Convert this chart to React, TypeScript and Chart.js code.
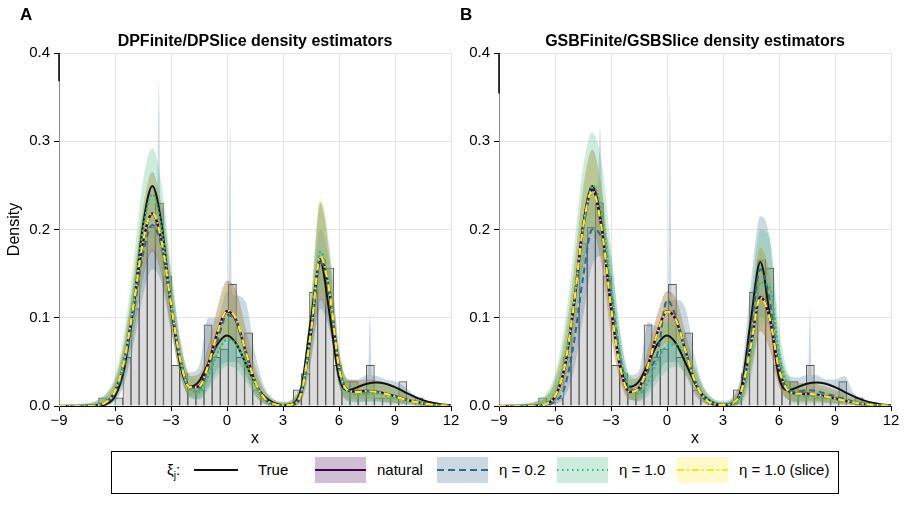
import React, { useEffect, useRef } from 'react';
import { Chart, registerables } from 'chart.js';

Chart.register(...registerables);

const FONT = "'Liberation Sans', Arial, Helvetica, sans-serif";
Chart.defaults.font.family = FONT;
Chart.defaults.color = '#000';

// ---------------- data ----------------
const gridX = [
  -9, -8.5, -8, -7.5, -7, -6.5, -6, -5.5, -5, -4.5, -4,
  -3.5, -3, -2.5, -2, -1.5, -1, -0.5, 0, 0.5, 1, 1.5,
  2, 2.5, 3, 3.5, 4, 4.5, 5, 5.5, 6, 6.5, 7,
  7.5, 8, 8.5, 9, 9.5, 10, 10.5, 11, 11.5, 12,
];

const histCenters = [
  -6.663, -6.228, -5.793, -5.359, -4.924, -4.49, -4.055, -3.621, -3.186, -2.752,
  -2.317, -1.882, -1.448, -1.013, -0.579, -0.144, 0.29, 0.725, 1.159, 1.594,
  2.029, 2.463, 2.898, 3.332, 3.767, 4.201, 4.636, 5.071, 5.505, 5.94,
  6.374, 6.809, 7.243, 7.678, 8.112, 8.547, 8.981, 9.416, 9.851, 10.285,
];
const histDensity = [
  0.0092, 0, 0.0092, 0.0552, 0.1104, 0.184, 0.2024, 0.23, 0.1472, 0.046,
  0.0368, 0.0184, 0.0184, 0.092, 0.0552, 0.0644, 0.138, 0.0552, 0.0828, 0.0184,
  0.0092, 0, 0, 0, 0.0184, 0.0368, 0.1288, 0.1656, 0.1564, 0.046,
  0.0276, 0.0276, 0.0184, 0.046, 0.0092, 0.0092, 0.0092, 0.0276, 0, 0.0092,
];

const trueDensity = [
  0, 0, 0, 0, 0.0002, 0.0019, 0.0109, 0.0429, 0.114, 0.2049, 0.2493,
  0.2052, 0.1149, 0.0464, 0.0217, 0.0278, 0.0486, 0.0704, 0.0798, 0.0704, 0.0484, 0.0259,
  0.0108, 0.0035, 0.001, 0.0022, 0.0224, 0.0986, 0.1632, 0.1034, 0.0325, 0.0179, 0.0214,
  0.0252, 0.0266, 0.0252, 0.0213, 0.0161, 0.0109, 0.0066, 0.0036, 0.0018, 0.0007,
];

// ----- panel A (DPFinite / DPSlice) -----
const naturalA = [
  0, 0, 0, 0.0001, 0.0007, 0.0038, 0.0165, 0.051, 0.1144, 0.1855, 0.218,
  0.1855, 0.1144, 0.052, 0.0216, 0.0222, 0.0475, 0.0842, 0.1073, 0.0967, 0.0617, 0.0278,
  0.0089, 0.0021, 0.0006, 0.0017, 0.0163, 0.0829, 0.1667, 0.1276, 0.0437, 0.0173, 0.0163,
  0.017, 0.0162, 0.014, 0.011, 0.0078, 0.005, 0.0029, 0.0016, 0.0007, 0.0003,
];
const naturalLoA = [
  0, 0, 0, 0, 0, 0.001, 0.008, 0.034, 0.085, 0.145, 0.175,
  0.148, 0.088, 0.036, 0.012, 0.012, 0.03, 0.058, 0.076, 0.068, 0.04, 0.015,
  0.003, 0.0003, 0, 0.0003, 0.008, 0.055, 0.12, 0.09, 0.026, 0.008, 0.008,
  0.008, 0.008, 0.006, 0.004, 0.003, 0.0015, 0.0006, 0.0002, 0, 0,
];
const naturalHiA = [
  0.0005, 0.0008, 0.0012, 0.002, 0.004, 0.01, 0.028, 0.072, 0.145, 0.225, 0.265,
  0.225, 0.145, 0.07, 0.034, 0.036, 0.068, 0.112, 0.142, 0.13, 0.088, 0.045,
  0.018, 0.007, 0.004, 0.007, 0.028, 0.115, 0.23, 0.17, 0.065, 0.03, 0.029,
  0.03, 0.029, 0.026, 0.021, 0.016, 0.011, 0.007, 0.005, 0.003, 0.002,
];
const eta02A = [
  0, 0, 0, 0.0002, 0.001, 0.004, 0.015, 0.046, 0.105, 0.172, 0.205,
  0.18, 0.115, 0.053, 0.022, 0.02, 0.042, 0.075, 0.103, 0.095, 0.06, 0.028,
  0.009, 0.0025, 0.001, 0.002, 0.017, 0.08, 0.163, 0.127, 0.045, 0.018, 0.016,
  0.017, 0.016, 0.014, 0.011, 0.008, 0.005, 0.003, 0.0015, 0.0007, 0.0003,
];
const eta02LoA = [
  0, 0, 0, 0, 0, 0.0005, 0.005, 0.025, 0.07, 0.125, 0.155,
  0.14, 0.085, 0.035, 0.01, 0.008, 0.022, 0.042, 0.05, 0.05, 0.035, 0.012,
  0.002, 0, 0, 0, 0.006, 0.05, 0.11, 0.085, 0.022, 0.006, 0.005,
  0.005, 0.005, 0.004, 0.003, 0.002, 0.001, 0, 0, 0, 0,
];
const eta02HiA = [
  0.001, 0.0015, 0.002, 0.003, 0.006, 0.013, 0.03, 0.072, 0.14, 0.215, 0.25,
  0.228, 0.15, 0.075, 0.038, 0.045, 0.1, 0.1, 0.13, 0.125, 0.118, 0.06,
  0.022, 0.008, 0.005, 0.008, 0.03, 0.11, 0.2, 0.16, 0.06, 0.03, 0.03,
  0.035, 0.034, 0.03, 0.028, 0.022, 0.013, 0.007, 0.004, 0.002, 0.001,
];
const eta02SpikesA = [
  [[-3.75, 0.236], [-3.65, 0.366], [-3.56, 0.232]],
  [[0.08, 0.13], [0.17, 0.32], [0.27, 0.128]],
  [[7.56, 0.035], [7.66, 0.105], [7.76, 0.035]],
];
const eta10A = [
  0, 0, 0, 0.0001, 0.0006, 0.004, 0.017, 0.053, 0.121, 0.2, 0.24,
  0.2, 0.121, 0.052, 0.019, 0.016, 0.034, 0.06, 0.075, 0.07, 0.048, 0.024,
  0.009, 0.0025, 0.0008, 0.002, 0.018, 0.088, 0.175, 0.132, 0.042, 0.015, 0.013,
  0.014, 0.014, 0.012, 0.01, 0.007, 0.0045, 0.0027, 0.0015, 0.0007, 0.0003,
];
const eta10LoA = [
  0, 0, 0, 0, 0, 0.001, 0.007, 0.03, 0.08, 0.15, 0.19,
  0.155, 0.09, 0.035, 0.009, 0.007, 0.018, 0.035, 0.045, 0.042, 0.028, 0.012,
  0.003, 0, 0, 0, 0.008, 0.06, 0.13, 0.095, 0.024, 0.005, 0.004,
  0.005, 0.005, 0.004, 0.003, 0.002, 0.001, 0, 0, 0, 0,
];
const eta10HiA = [
  0.0005, 0.001, 0.0015, 0.003, 0.006, 0.014, 0.034, 0.085, 0.165, 0.255, 0.292,
  0.25, 0.16, 0.075, 0.035, 0.03, 0.055, 0.085, 0.1, 0.095, 0.07, 0.04,
  0.017, 0.006, 0.003, 0.006, 0.03, 0.12, 0.232, 0.18, 0.065, 0.028, 0.025,
  0.026, 0.026, 0.023, 0.019, 0.014, 0.009, 0.006, 0.003, 0.0015, 0.0007,
];
const sliceA = [
  0, 0, 0, 0.0001, 0.0008, 0.004, 0.017, 0.052, 0.115, 0.186, 0.219,
  0.186, 0.115, 0.052, 0.0215, 0.022, 0.047, 0.084, 0.108, 0.098, 0.062, 0.028,
  0.009, 0.0022, 0.0006, 0.0017, 0.0165, 0.084, 0.169, 0.128, 0.0435, 0.0172, 0.016,
  0.0168, 0.016, 0.0138, 0.0108, 0.0077, 0.005, 0.0029, 0.0016, 0.0007, 0.0003,
];
const sliceLoA = [
  0, 0, 0, 0, 0, 0.001, 0.008, 0.035, 0.087, 0.147, 0.178,
  0.15, 0.09, 0.037, 0.012, 0.012, 0.03, 0.057, 0.075, 0.067, 0.04, 0.015,
  0.003, 0.0003, 0, 0.0003, 0.008, 0.056, 0.122, 0.092, 0.027, 0.008, 0.008,
  0.008, 0.008, 0.006, 0.004, 0.003, 0.0015, 0.0006, 0.0002, 0, 0,
];
const sliceHiA = [
  0.0005, 0.0008, 0.0012, 0.002, 0.004, 0.011, 0.03, 0.074, 0.148, 0.228, 0.262,
  0.224, 0.146, 0.071, 0.034, 0.035, 0.066, 0.11, 0.14, 0.128, 0.087, 0.044,
  0.018, 0.007, 0.004, 0.007, 0.029, 0.118, 0.236, 0.174, 0.066, 0.03, 0.028,
  0.029, 0.028, 0.025, 0.021, 0.016, 0.011, 0.007, 0.005, 0.003, 0.002,
];

// ----- panel B (GSBFinite / GSBSlice) -----
const naturalB = [
  0, 0, 0, 0, 0.0002, 0.0019, 0.0107, 0.0422, 0.1122, 0.2015, 0.245,
  0.2015, 0.1122, 0.0432, 0.0158, 0.0203, 0.047, 0.0842, 0.1073, 0.0967, 0.0617, 0.0278,
  0.0089, 0.002, 0.0009, 0.0029, 0.0183, 0.0698, 0.1236, 0.1001, 0.0419, 0.0172, 0.0141,
  0.0139, 0.0129, 0.0109, 0.0085, 0.0061, 0.004, 0.0024, 0.0013, 0.0007, 0.0003,
];
const naturalLoB = [
  0, 0, 0, 0, 0, 0.0004, 0.005, 0.025, 0.08, 0.16, 0.2,
  0.16, 0.08, 0.028, 0.007, 0.009, 0.03, 0.058, 0.072, 0.066, 0.04, 0.016,
  0.004, 0.0005, 0, 0.0005, 0.006, 0.04, 0.085, 0.065, 0.022, 0.007, 0.005,
  0.005, 0.005, 0.004, 0.003, 0.002, 0.001, 0, 0, 0, 0,
];
const naturalHiB = [
  0.0005, 0.0008, 0.0012, 0.002, 0.004, 0.01, 0.03, 0.075, 0.15, 0.245, 0.29,
  0.245, 0.15, 0.065, 0.03, 0.034, 0.065, 0.105, 0.13, 0.12, 0.082, 0.042,
  0.017, 0.006, 0.004, 0.008, 0.032, 0.11, 0.18, 0.15, 0.065, 0.03, 0.026,
  0.026, 0.025, 0.022, 0.018, 0.014, 0.009, 0.006, 0.004, 0.002, 0.001,
];
const eta02B = [
  0, 0, 0, 0, 0.0002, 0.001, 0.005, 0.02, 0.07, 0.145, 0.2,
  0.19, 0.13, 0.055, 0.02, 0.018, 0.04, 0.06, 0.12, 0.1, 0.062, 0.028,
  0.009, 0.0025, 0.001, 0.003, 0.02, 0.085, 0.155, 0.12, 0.045, 0.018, 0.016,
  0.018, 0.017, 0.014, 0.011, 0.008, 0.005, 0.003, 0.0015, 0.0007, 0.0003,
];
const eta02LoB = [
  0, 0, 0, 0, 0, 0, 0.002, 0.01, 0.04, 0.1, 0.16,
  0.17, 0.1, 0.035, 0.008, 0.006, 0.018, 0.035, 0.05, 0.05, 0.035, 0.012,
  0.003, 0, 0, 0, 0.005, 0.045, 0.1, 0.085, 0.025, 0.007, 0.005,
  0.006, 0.006, 0.005, 0.004, 0.003, 0.0015, 0, 0, 0, 0,
];
const eta02HiB = [
  0.001, 0.0015, 0.002, 0.003, 0.005, 0.01, 0.025, 0.06, 0.12, 0.2, 0.25,
  0.25, 0.17, 0.08, 0.035, 0.04, 0.095, 0.09, 0.12, 0.12, 0.11, 0.055,
  0.02, 0.008, 0.006, 0.01, 0.04, 0.14, 0.215, 0.19, 0.075, 0.035, 0.032,
  0.035, 0.035, 0.03, 0.03, 0.034, 0.015, 0.008, 0.004, 0.002, 0.001,
];
const eta02SpikesB = [
  [[-3.7, 0.25], [-3.59, 0.316], [-3.48, 0.248]],
  [[0.07, 0.12], [0.16, 0.352], [0.26, 0.12]],
  [[7.56, 0.035], [7.66, 0.111], [7.76, 0.035]],
];
const eta10B = [
  0, 0, 0, 0.0001, 0.0005, 0.003, 0.015, 0.05, 0.118, 0.2, 0.25,
  0.22, 0.135, 0.058, 0.02, 0.014, 0.028, 0.052, 0.068, 0.07, 0.055, 0.03,
  0.012, 0.004, 0.0015, 0.002, 0.012, 0.06, 0.14, 0.135, 0.06, 0.02, 0.012,
  0.011, 0.011, 0.01, 0.008, 0.006, 0.004, 0.0025, 0.0014, 0.0007, 0.0003,
];
const eta10LoB = [
  0, 0, 0, 0, 0, 0.0005, 0.005, 0.025, 0.075, 0.15, 0.2,
  0.175, 0.1, 0.036, 0.009, 0.005, 0.012, 0.028, 0.04, 0.045, 0.035, 0.017,
  0.005, 0.001, 0, 0, 0.003, 0.03, 0.09, 0.095, 0.035, 0.008, 0.003,
  0.003, 0.003, 0.003, 0.002, 0.0015, 0.001, 0, 0, 0, 0,
];
const eta10HiB = [
  0.0005, 0.001, 0.0015, 0.003, 0.006, 0.014, 0.036, 0.09, 0.175, 0.27, 0.31,
  0.275, 0.18, 0.085, 0.035, 0.03, 0.05, 0.08, 0.095, 0.095, 0.078, 0.045,
  0.02, 0.008, 0.004, 0.007, 0.03, 0.12, 0.2, 0.19, 0.09, 0.035, 0.022,
  0.02, 0.02, 0.018, 0.015, 0.011, 0.008, 0.005, 0.003, 0.0015, 0.0007,
];
const sliceB = [
  0, 0, 0, 0, 0.0002, 0.002, 0.011, 0.043, 0.113, 0.202, 0.244,
  0.201, 0.112, 0.043, 0.016, 0.0205, 0.0472, 0.084, 0.107, 0.0965, 0.0615, 0.0277,
  0.0089, 0.002, 0.0009, 0.0029, 0.0182, 0.0695, 0.123, 0.0995, 0.0418, 0.0171, 0.014,
  0.0138, 0.0128, 0.0108, 0.0085, 0.0061, 0.004, 0.0024, 0.0013, 0.0007, 0.0003,
];
const sliceLoB = [
  0, 0, 0, 0, 0, 0.0004, 0.005, 0.026, 0.082, 0.162, 0.202,
  0.162, 0.081, 0.028, 0.007, 0.009, 0.03, 0.058, 0.072, 0.066, 0.04, 0.016,
  0.004, 0.0005, 0, 0.0005, 0.006, 0.04, 0.086, 0.066, 0.022, 0.007, 0.005,
  0.005, 0.005, 0.004, 0.003, 0.002, 0.001, 0, 0, 0, 0,
];
const sliceHiB = [
  0.0005, 0.0008, 0.0012, 0.002, 0.004, 0.011, 0.031, 0.077, 0.152, 0.247, 0.288,
  0.243, 0.149, 0.065, 0.03, 0.034, 0.064, 0.104, 0.128, 0.119, 0.081, 0.042,
  0.017, 0.006, 0.004, 0.008, 0.032, 0.112, 0.182, 0.152, 0.066, 0.03, 0.026,
  0.026, 0.025, 0.022, 0.018, 0.014, 0.009, 0.006, 0.004, 0.002, 0.001,
];

const xTicks = [-9, -6, -3, 0, 3, 6, 9, 12];
const yTicks = [0, 0.1, 0.2, 0.3, 0.4];
const panelTitles = ['DPFinite/DPSlice density estimators', 'GSBFinite/GSBSlice density estimators'];
const panelLetters = ['A', 'B'];
const legendLabels = ['True', 'natural', 'η = 0.2', 'η = 1.0', 'η = 1.0 (slice)'];

// ---------------- styles ----------------
const COL = {
  truth: '#111111',
  natural: '#440154',
  eta02: '#31688e',
  eta10: '#35b779',
  slice: '#fde725',
};
function rgba(hex: string, a: number) {
  const n = parseInt(hex.slice(1), 16);
  return `rgba(${(n >> 16) & 255},${(n >> 8) & 255},${n & 255},${a})`;
}
const BAND_ALPHA = 0.25;

type Pt = { x: number; y: number };
function toPoints(ys: number[], spikes: number[][][] = []): Pt[] {
  let pts: Pt[] = gridX.map((x, i) => ({ x, y: ys[i] }));
  for (const s of spikes) {
    const lo = s[0][0];
    const hi = s[s.length - 1][0];
    pts = pts.filter((p) => p.x < lo || p.x > hi);
    for (const [x, y] of s) pts.push({ x, y });
  }
  pts.sort((a, b) => a.x - b.x);
  return pts;
}

interface PanelData {
  natural: number[]; naturalLo: number[]; naturalHi: number[];
  eta02: number[]; eta02Lo: number[]; eta02Hi: number[]; eta02Spikes: number[][][];
  eta10: number[]; eta10Lo: number[]; eta10Hi: number[];
  slice: number[]; sliceLo: number[]; sliceHi: number[];
  stubTo: number;
  showYTitle: boolean;
}

const panels: PanelData[] = [
  {
    natural: naturalA, naturalLo: naturalLoA, naturalHi: naturalHiA,
    eta02: eta02A, eta02Lo: eta02LoA, eta02Hi: eta02HiA, eta02Spikes: eta02SpikesA,
    eta10: eta10A, eta10Lo: eta10LoA, eta10Hi: eta10HiA,
    slice: sliceA, sliceLo: sliceLoA, sliceHi: sliceHiA,
    stubTo: 0.368, showYTitle: true,
  },
  {
    natural: naturalB, naturalLo: naturalLoB, naturalHi: naturalHiB,
    eta02: eta02B, eta02Lo: eta02LoB, eta02Hi: eta02HiB, eta02Spikes: eta02SpikesB,
    eta10: eta10B, eta10Lo: eta10LoB, eta10Hi: eta10HiB,
    slice: sliceB, sliceLo: sliceLoB, sliceHi: sliceHiB,
    stubTo: 0.354, showYTitle: false,
  },
];

const stubPlugin = {
  id: 'stub',
  afterDraw(chart: any, _args: any, opts: any) {
    const { ctx, chartArea, scales } = chart;
    const y1 = scales.y.getPixelForValue(opts.to);
    ctx.save();
    ctx.strokeStyle = '#000';
    ctx.lineWidth = 1.5;
    ctx.beginPath();
    ctx.moveTo(chartArea.left, chartArea.top);
    ctx.lineTo(chartArea.left, y1);
    ctx.stroke();
    ctx.restore();
  },
};

const fmtX = (v: number) => (v < 0 ? '\u2212' + Math.abs(v) : String(v));

function buildConfig(p: PanelData): any {
  const datasets: any[] = [];
  datasets.push({
    type: 'bar',
    data: histCenters.map((x, i) => ({ x, y: histDensity[i] })).filter((d) => d.y > 0),
    backgroundColor: '#dcdcdc',
    borderColor: '#575757',
    borderWidth: 1,
    barPercentage: 1,
    categoryPercentage: 1,
    order: 100,
  });
  const bands: [number[], number[], number[][][], string][] = [
    [p.naturalLo, p.naturalHi, [], COL.natural],
    [p.eta02Lo, p.eta02Hi, p.eta02Spikes, COL.eta02],
    [p.eta10Lo, p.eta10Hi, [], COL.eta10],
    [p.sliceLo, p.sliceHi, [], COL.slice],
  ];
  let ord = 90;
  for (const [lo, hi, sp, c] of bands) {
    datasets.push({
      type: 'line', data: toPoints(lo), borderColor: 'transparent', borderWidth: 0,
      pointRadius: 0, fill: false, order: ord--, cubicInterpolationMode: 'monotone',
    });
    datasets.push({
      type: 'line', data: toPoints(hi, sp), borderColor: 'transparent', borderWidth: 0,
      pointRadius: 0, fill: '-1', backgroundColor: rgba(c, BAND_ALPHA), order: ord--,
      cubicInterpolationMode: 'monotone',
    });
  }
  const line = (ys: number[], color: string, width: number, dash: number[], order: number, cap = 'butt') => ({
    type: 'line', data: toPoints(ys), borderColor: color, borderWidth: width, borderDash: dash,
    borderCapStyle: cap, pointRadius: 0, fill: false, order, cubicInterpolationMode: 'monotone',
  });
  datasets.push(line(trueDensity, COL.truth, 2, [], 5));
  datasets.push(line(p.natural, COL.natural, 2.5, [], 4));
  datasets.push(line(p.eta02, COL.eta02, 2, [6, 4], 3));
  datasets.push(line(p.eta10, COL.eta10, 2.2, [0.5, 4], 2, 'round'));
  datasets.push(line(p.slice, COL.slice, 2.2, [7, 3, 1.5, 3], 1));

  return {
    type: 'line',
    data: { datasets },
    plugins: [stubPlugin],
    options: {
      responsive: false,
      animation: false,
      events: [],
      layout: { padding: { top: 53, right: 10, bottom: 0, left: 0 } },
      plugins: {
        legend: { display: false },
        tooltip: { enabled: false },
        title: { display: false },
        stub: { to: p.stubTo },
      },
      scales: {
        x: {
          type: 'linear',
          offset: false,
          min: xTicks[0],
          max: xTicks[xTicks.length - 1],
          afterFit: (s: any) => { s.height = 44; },
          afterBuildTicks: (s: any) => { s.ticks = xTicks.map((v) => ({ value: v })); },
          ticks: {
            autoSkip: false, maxRotation: 0, padding: 1, color: '#000',
            font: { size: 15, family: FONT }, callback: (v: any) => fmtX(Number(v)),
          },
          grid: { offset: false, color: '#e4e4e4', tickColor: '#000', tickLength: 5, lineWidth: 1 },
          border: { color: '#000', width: 1 },
          title: {
            display: true, text: 'x', color: '#000',
            font: { size: 16, family: FONT }, padding: { top: 0, bottom: 2 },
          },
        },
        y: {
          type: 'linear',
          min: yTicks[0],
          max: yTicks[yTicks.length - 1],
          afterFit: (s: any) => { s.width = 59; },
          afterBuildTicks: (s: any) => { s.ticks = yTicks.map((v) => ({ value: v })); },
          ticks: {
            padding: 4, color: '#000', font: { size: 15, family: FONT },
            callback: (v: any) => Number(v).toFixed(1),
          },
          grid: { color: '#e4e4e4', tickColor: '#000', tickLength: 5, lineWidth: 1 },
          border: { color: '#8a8a8a', width: 1 },
          title: {
            display: p.showYTitle, text: 'Density', color: '#000',
            font: { size: 16, family: FONT }, padding: { top: 5, bottom: 0 },
          },
        },
      },
    },
  };
}

function Panel({ data, left }: { data: PanelData; left: number }) {
  const ref = useRef<HTMLCanvasElement>(null);
  useEffect(() => {
    const chart = new Chart(ref.current as HTMLCanvasElement, buildConfig(data));
    return () => chart.destroy();
  }, [data]);
  return (
    <canvas
      ref={ref}
      width={461}
      height={450}
      style={{ position: 'absolute', left, top: 0, width: 461, height: 450 }}
    />
  );
}

function Swatch({ left, color, dash, patch, lineW = 2 }: { left: number; color: string; dash?: string; patch: boolean; lineW?: number }) {
  const w = patch ? 51 : 44;
  return (
    <svg width={w} height={26} style={{ position: 'absolute', left, top: 457 }}>
      {patch && <rect x={0} y={0} width={w} height={26} fill={rgba(color, BAND_ALPHA)} />}
      <line x1={0} y1={13} x2={w} y2={13} stroke={color} strokeWidth={lineW} strokeDasharray={dash} />
    </svg>
  );
}

const textStyle: React.CSSProperties = {
  position: 'absolute', top: 461, fontFamily: FONT, fontSize: 15, lineHeight: '18px', color: '#000', whiteSpace: 'nowrap',
};

export default function App() {
  return (
    <div style={{ position: 'absolute', left: 0, top: 0, width: 909, height: 530, background: '#fff', overflow: 'hidden' }}>
      <Panel data={panels[0]} left={0} />
      <Panel data={panels[1]} left={440} />
      {panelLetters.map((t, i) => (
        <div key={t} style={{ position: 'absolute', left: i === 0 ? 20 : 460, top: 5, fontFamily: FONT, fontWeight: 'bold', fontSize: 17, lineHeight: '20px' }}>{t}</div>
      ))}
      {panelTitles.map((t, i) => (
        <div key={t} style={{ position: 'absolute', left: i === 0 ? 59 : 499, width: 392, top: 31, textAlign: 'center', fontFamily: FONT, fontWeight: 'bold', fontSize: 16, lineHeight: '20px', whiteSpace: 'nowrap' }}>{t}</div>
      ))}
      <div style={{ position: 'absolute', left: 111, top: 451, width: 728, height: 43, border: '1px solid #000', boxSizing: 'border-box' }} />
      <div style={{ ...textStyle, left: 167 }}>ξ<sub style={{ fontSize: 10, lineHeight: 0 }}>j</sub>:</div>
      <Swatch left={194} color={COL.truth} patch={false} />
      <div style={{ ...textStyle, left: 258 }}>{legendLabels[0]}</div>
      <Swatch left={315} color={COL.natural} patch={true} />
      <div style={{ ...textStyle, left: 377 }}>{legendLabels[1]}</div>
      <Swatch left={437} color={COL.eta02} patch={true} dash="7 4" />
      <div style={{ ...textStyle, left: 499 }}>{legendLabels[2]}</div>
      <Swatch left={557} color={COL.eta10} patch={true} dash="1.5 3.5" />
      <div style={{ ...textStyle, left: 619 }}>{legendLabels[3]}</div>
      <Swatch left={677} color={COL.slice} patch={true} dash="7 3 2 3" />
      <div style={{ ...textStyle, left: 739 }}>{legendLabels[4]}</div>
    </div>
  );
}
